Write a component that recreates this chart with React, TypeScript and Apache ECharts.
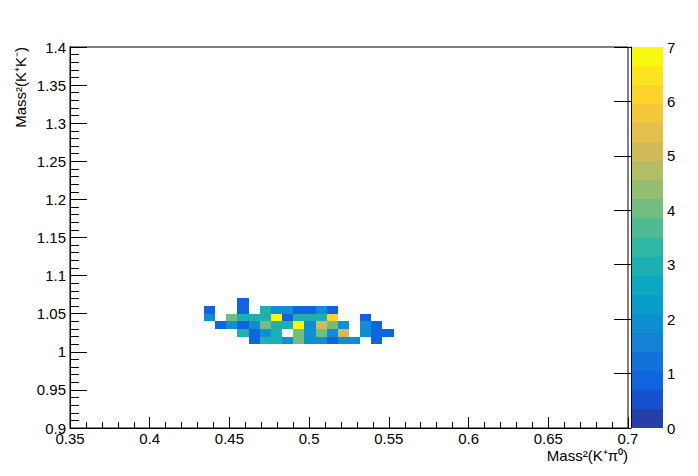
import React, { useEffect, useRef } from "react";
import * as echarts from "echarts";

// Axis ranges and bin sizes
const X_MIN = 0.35;
const X_MAX = 0.7;
const Y_MIN = 0.9;
const Y_MAX = 1.4;
const BIN_W = 0.007;
const BIN_H = 0.01;
const Z_MAX = 7;
const N_CONTOURS = 20;

// First x-bin index of the count rows below (bin k covers X_MIN + k*BIN_W)
const COL_START = 12;
// Lower edges of the y-bins, one per count row
const ROW_Y = [1.06, 1.05, 1.04, 1.03, 1.02, 1.01];
// Counts per x-bin (k = 12..28)
const row106 = [0, 0, 0, 1, 0, 0, 0, 0, 0, 0, 0, 0, 0, 0, 0, 0, 0];
const row105 = [1, 0, 0, 1, 0, 3, 2, 2, 1, 1, 2, 1, 0, 0, 0, 0, 0];
const row104 = [2, 0, 4, 3, 3, 3, 7, 1, 3, 3, 3, 6, 0, 0, 1, 0, 0];
const row103 = [0, 1, 2, 1, 2, 4, 3, 3, 7, 2, 5, 4, 2, 0, 2, 1, 0];
const row102 = [0, 0, 0, 3, 1, 2, 3, 0, 4, 2, 4, 2, 5, 0, 2, 1, 1];
const row101 = [0, 0, 0, 0, 1, 3, 3, 2, 4, 2, 2, 1, 2, 2, 0, 1, 0];
const ROWS = [row106, row105, row104, row103, row102, row101];

const X_TITLE = "Mass\u00B2(K\u207A\u03C0\u2070)";
const Y_TITLE = "Mass\u00B2(K\u207AK\u207B)";

// ROOT kBird palette stops
const STOPS = [0, 0.125, 0.25, 0.375, 0.5, 0.625, 0.75, 0.875, 1];
const RED = [0.2082, 0.0592, 0.078, 0.0232, 0.1802, 0.5301, 0.8186, 0.9956, 0.9764];
const GREEN = [0.1664, 0.3599, 0.5041, 0.6419, 0.7178, 0.7492, 0.7328, 0.7862, 0.9832];
const BLUE = [0.5293, 0.8684, 0.8385, 0.7914, 0.6425, 0.4662, 0.3499, 0.1968, 0.0539];

function buildPalette(): string[] {
  const n = 255;
  const out: string[] = [];
  for (let g = 1; g < STOPS.length; g++) {
    const nc = Math.floor(n * STOPS[g]) - Math.floor(n * STOPS[g - 1]);
    for (let c = 0; c < nc; c++) {
      const r = RED[g - 1] + (c * (RED[g] - RED[g - 1])) / nc;
      const gg = GREEN[g - 1] + (c * (GREEN[g] - GREEN[g - 1])) / nc;
      const b = BLUE[g - 1] + (c * (BLUE[g] - BLUE[g - 1])) / nc;
      out.push(`rgb(${Math.round(r * 255)},${Math.round(gg * 255)},${Math.round(b * 255)})`);
    }
  }
  return out;
}
const PALETTE = buildPalette();
function bandColor(i: number): string {
  const idx = Math.min(PALETTE.length - 1, Math.floor(((i + 0.99) * PALETTE.length) / N_CONTOURS));
  return PALETTE[idx];
}
function valueBand(v: number): number {
  return Math.min(N_CONTOURS - 1, Math.floor(0.01 + (v * N_CONTOURS) / Z_MAX));
}

const FONT = "Liberation Sans, Arial, Helvetica, sans-serif";

export default function App() {
  const ref = useRef<HTMLDivElement>(null);
  useEffect(() => {
    if (!ref.current) return;
    const chart = echarts.init(ref.current, undefined, { renderer: "svg" });

    const cells: number[][] = [];
    ROWS.forEach((row, r) => {
      row.forEach((count, c) => {
        if (count > 0) cells.push([X_MIN + (COL_START + c) * BIN_W, ROW_Y[r], count]);
      });
    });
    const bands: number[][] = [];
    for (let i = 0; i < N_CONTOURS; i++) bands.push([i]);

    const fmt = (v: number) => String(+Number(v).toFixed(3));
    const black = "#000";

    chart.setOption({
      animation: false,
      backgroundColor: "#fff",
      textStyle: { fontFamily: FONT },
      grid: [
        { left: 70, right: 70, top: 47, bottom: 48, show: true, borderColor: black, borderWidth: 1, backgroundColor: "transparent" },
        { left: 631, width: 32, top: 47, bottom: 48 },
      ],
      xAxis: [
        {
          type: "value",
          gridIndex: 0,
          min: X_MIN,
          max: X_MAX,
          interval: 0.05,
          axisLine: { show: true, lineStyle: { color: black, width: 1 } },
          axisTick: { show: true, inside: true, length: 11, lineStyle: { color: black } },
          minorTick: { show: true, splitNumber: 5, length: 6, lineStyle: { color: black } },
          splitLine: { show: false },
          axisLabel: { color: black, fontSize: 15, fontFamily: FONT, margin: 3, formatter: fmt, showMinLabel: true, showMaxLabel: true },
        },
        {
          type: "value",
          gridIndex: 1,
          min: 0,
          max: 1,
          show: false,
        },
      ],
      yAxis: [
        {
          type: "value",
          gridIndex: 0,
          min: Y_MIN,
          max: Y_MAX,
          interval: 0.05,
          axisLine: { show: true, lineStyle: { color: black, width: 1 } },
          axisTick: { show: true, inside: true, length: 17, lineStyle: { color: black } },
          minorTick: { show: true, splitNumber: 5, length: 9, lineStyle: { color: black } },
          splitLine: { show: false },
          axisLabel: { color: black, fontSize: 15, fontFamily: FONT, margin: 4, formatter: fmt, showMinLabel: true, showMaxLabel: true },
        },
        {
          type: "value",
          gridIndex: 1,
          position: "right",
          min: 0,
          max: Z_MAX,
          interval: 1,
          axisLine: { show: true, lineStyle: { color: black, width: 1 } },
          axisTick: { show: true, inside: true, length: 17, lineStyle: { color: black } },
          splitLine: { show: false },
          axisLabel: { color: black, fontSize: 15, fontFamily: FONT, margin: 4, showMinLabel: true, showMaxLabel: true },
          z: 10,
        },
      ],
      series: [
        {
          type: "custom",
          xAxisIndex: 0,
          yAxisIndex: 0,
          data: cells,
          encode: { x: 0, y: 1 },
          renderItem: (params: any, api: any) => {
            const x0 = api.value(0);
            const y0 = api.value(1);
            const v = api.value(2);
            const p1 = api.coord([x0, y0 + BIN_H]);
            const p2 = api.coord([x0 + BIN_W, y0]);
            const x = Math.round(p1[0]);
            const y = Math.round(p1[1]);
            return {
              type: "rect",
              shape: { x, y, width: Math.round(p2[0]) - x, height: Math.round(p2[1]) - y },
              style: { fill: bandColor(valueBand(v)), stroke: null },
            };
          },
        },
        {
          type: "custom",
          xAxisIndex: 1,
          yAxisIndex: 1,
          data: bands,
          encode: { y: 0 },
          renderItem: (params: any, api: any) => {
            const i = api.value(0);
            const p1 = api.coord([0, ((i + 1) * Z_MAX) / N_CONTOURS]);
            const p2 = api.coord([1, (i * Z_MAX) / N_CONTOURS]);
            const x = Math.round(p1[0]);
            const y = Math.round(p1[1]);
            return {
              type: "rect",
              shape: { x, y, width: Math.round(p2[0]) - x, height: Math.round(p2[1]) - y },
              style: { fill: bandColor(i), stroke: null },
            };
          },
        },
      ],
      graphic: [
        {
          type: "text",
          x: 628,
          y: 455,
          style: { text: X_TITLE, font: `15px ${FONT}`, fill: black, align: "right", verticalAlign: "middle" },
        },
        {
          type: "text",
          x: 20,
          y: 47,
          rotation: Math.PI / 2,
          style: { text: Y_TITLE, font: `15px ${FONT}`, fill: black, align: "right", verticalAlign: "middle" },
        },
      ],
    });
    return () => chart.dispose();
  }, []);
  return <div ref={ref} style={{ position: "fixed", left: 0, top: 0, width: 698, height: 476 }} />;
}
